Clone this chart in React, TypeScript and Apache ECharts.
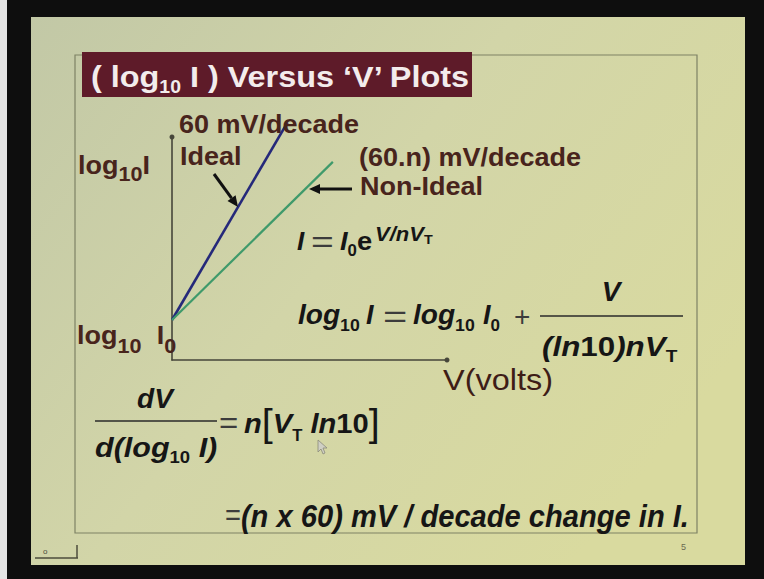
import { useEffect, useRef } from 'react';
import * as echarts from 'echarts';

// Diode characteristic: log10 I (decades above log10 I0) versus applied V (mV)
const IDEAL_V = [0, 42];
const IDEAL_LOGI = [0, 0.7];
const NONIDEAL_V = [0, 58.5];
const NONIDEAL_LOGI = [0, 0.56];

const V_RANGE = [0, 100];
const LOGI_RANGE = [-0.1416, 0.648];

const FONT = '"Liberation Sans", Arial, Helvetica, sans-serif';
const LABEL = '#48241c';
const EQ = '#161616';
const EQ_LIGHT = '#3c3c3c';
const TITLE_BG = '#5e1b29';

type RS = { [k: string]: any };
const rs = (size: number, weight = 'bold', italic = false, extra: RS = {}) => ({
  fontFamily: FONT,
  fontSize: size,
  fontWeight: weight,
  fontStyle: italic ? 'italic' : 'normal',
  ...extra,
});

function txt(
  x: number,
  y: number,
  text: string,
  o: { size?: number; weight?: string; italic?: boolean; fill?: string; sx?: number; align?: string; rich?: RS } = {}
) {
  return {
    type: 'text',
    x,
    y,
    z: 20,
    scaleX: o.sx ?? 1,
    silent: true,
    style: {
      text,
      fontFamily: FONT,
      fontSize: o.size ?? 25,
      fontWeight: o.weight ?? 'bold',
      fontStyle: o.italic ? 'italic' : 'normal',
      fill: o.fill ?? EQ,
      align: o.align ?? 'left',
      verticalAlign: 'middle',
      rich: o.rich,
    },
  };
}

function seg(x1: number, y1: number, x2: number, y2: number, color: string, width: number) {
  return {
    type: 'line',
    z: 20,
    silent: true,
    shape: { x1, y1, x2, y2 },
    style: { stroke: color, lineWidth: width },
  };
}

// Pointer arrow with a filled head at (x2, y2)
function arrow(x1: number, y1: number, x2: number, y2: number) {
  const dx = x2 - x1;
  const dy = y2 - y1;
  const len = Math.sqrt(dx * dx + dy * dy);
  const ux = dx / len;
  const uy = dy / len;
  const headLen = 11;
  const half = 5;
  const bx = x2 - ux * headLen;
  const by = y2 - uy * headLen;
  return {
    type: 'group',
    z: 20,
    children: [
      seg(x1, y1, bx, by, '#111', 3),
      {
        type: 'polygon',
        z: 20,
        shape: {
          points: [
            [x2, y2],
            [bx - uy * half, by + ux * half],
            [bx + uy * half, by - ux * half],
          ],
        },
        style: { fill: '#111' },
      },
    ],
  };
}

const labelRich = (main: number, sub: number, lh: number, color: string) => ({
  m: rs(main, 'bold', false, { fill: color, lineHeight: lh }),
  g: rs(main, 'bold', false, { fill: color, lineHeight: lh, padding: [0, 0, 0, 14] }),
  s: rs(sub, 'bold', false, { fill: color, lineHeight: sub, verticalAlign: 'bottom' }),
});

const eqRich = (main: number, sub: number, lh: number) => ({
  i: rs(main, 'bold', true, { fill: EQ, lineHeight: lh }),
  u: rs(main, 'bold', false, { fill: EQ, lineHeight: lh }),
  b: rs(main + 10, 'normal', false, { fill: EQ, lineHeight: lh }),
  s: rs(sub, 'bold', false, { fill: EQ, lineHeight: sub, verticalAlign: 'bottom' }),
});

const graphics: any[] = [
  // projected slide
  { type: 'rect', z: -10, silent: true, shape: { x: 0, y: 0, width: 7, height: 579 }, style: { fill: '#e4e4e4' } },
  {
    type: 'rect',
    z: -9,
    silent: true,
    shape: { x: 31, y: 17, width: 714, height: 548 },
    style: {
      fill: {
        type: 'linear',
        x: 0,
        y: 0,
        x2: 1,
        y2: 0.6,
        colorStops: [
          { offset: 0, color: '#c2c8a6' },
          { offset: 0.5, color: '#d2d5a8' },
          { offset: 1, color: '#d9da9f' },
        ],
      },
    },
  },
  {
    type: 'rect',
    z: -8,
    silent: true,
    shape: { x: 75, y: 55, width: 622, height: 478 },
    style: { fill: 'none', stroke: '#7e8265', lineWidth: 1.2 },
  },
  { type: 'rect', z: 5, silent: true, shape: { x: 82, y: 52, width: 390, height: 45 }, style: { fill: TITLE_BG } },
  txt(91, 77, '{m|( log}{s|10}{m| I ) Versus \u2018V\u2019 Plots}', {
    sx: 1.08,
    fill: '#f3ecec',
    rich: labelRich(30, 18, 38, '#f3ecec'),
  }),

  // plot annotations
  txt(179, 124, '60 mV/decade', { fill: LABEL, sx: 1.08 }),
  txt(180, 156, 'Ideal', { fill: LABEL, sx: 1.08 }),
  txt(359, 157, '(60.n) mV/decade', { fill: LABEL, sx: 1.08 }),
  txt(360, 186, 'Non-Ideal', { fill: LABEL, sx: 1.08 }),
  txt(78, 165, '{m|log}{s|10}{m|I}', { fill: LABEL, sx: 1.08, rich: labelRich(25, 20, 38, LABEL) }),
  txt(77, 335, '{m|log}{s|10}{g|I}{s|0}', { fill: LABEL, sx: 1.08, rich: labelRich(25, 20, 42, LABEL) }),
  txt(443, 380, 'V(volts)', { fill: '#3e1d17', size: 29, weight: 'normal', sx: 1.12 }),
  arrow(214, 174, 238, 207),
  arrow(352, 189, 309, 189),

  // I = I0 e^(V/nVT)
  txt(297, 241, 'I', { size: 26, italic: true }),
  txt(311, 242, '=', { size: 30, weight: 'normal', fill: EQ_LIGHT, sx: 1.3 }),
  txt(340, 241, '{i|I}{s|0}{u|e}', { sx: 1.05, rich: eqRich(26, 16, 34) }),
  txt(375, 234, '{i|V/nV}{s|T}', { sx: 1.1, rich: eqRich(20, 13, 24) }),

  // log10 I = log10 I0 + V / ((ln10) n VT)
  txt(298, 315, '{i|log}{s|10}', { sx: 1.04, rich: eqRich(27, 17, 38) }),
  txt(366, 315, 'I', { size: 27, italic: true }),
  txt(383, 316, '=', { size: 32, weight: 'normal', fill: EQ_LIGHT, sx: 1.3 }),
  txt(413, 315, '{i|log}{s|10}', { sx: 1.04, rich: eqRich(27, 17, 38) }),
  txt(483, 315, '{i|I}{s|0}', { rich: eqRich(27, 17, 38) }),
  txt(514, 316, '+', { size: 28, weight: 'normal', fill: EQ_LIGHT }),
  seg(540, 316, 683, 316, '#2a2a2a', 1.5),
  txt(611, 291, 'V', { size: 28, italic: true, align: 'center' }),
  txt(542, 346, '{i|(ln}{u|10}{i|)nV}{s|T}', { sx: 1.12, rich: eqRich(28, 17, 38) }),

  // dV / d(log10 I) = n[VT ln10]
  txt(155, 398, 'dV', { size: 28, italic: true, align: 'center' }),
  seg(95, 421, 217, 421, '#2a2a2a', 1.5),
  txt(95, 447, '{i|d(log}{s|10}{i| I)}', { sx: 1.09, rich: eqRich(28, 17, 38) }),
  txt(219, 423, '=', { size: 30, weight: 'normal', fill: EQ_LIGHT, sx: 1.1 }),
  txt(244, 423, '{i|n}{b|[}{i|V}{s|T}{i| ln}{u|10}{b|]}', { sx: 1.04, rich: eqRich(28, 16, 40) }),
  txt(225, 515, '{e|=}{i|(n x 60) mV / decade change in I.}', {
    sx: 0.91,
    rich: {
      e: rs(30, 'normal', false, { fill: EQ_LIGHT, lineHeight: 38 }),
      i: rs(32, 'bold', true, { fill: EQ, lineHeight: 38 }),
    },
  }),

  // mouse pointer left on the slide
  {
    type: 'polygon',
    z: 20,
    silent: true,
    shape: {
      points: [
        [318, 440],
        [318, 452],
        [321, 449],
        [323, 454],
        [325, 453],
        [323, 448],
        [327, 448],
      ],
    },
    style: { fill: '#cfcfc4', stroke: '#8a8a7a', lineWidth: 0.8 },
  },

  // slide footer
  txt(681, 547, '5', { size: 9, weight: 'normal', fill: '#6a6a52' }),
  seg(35, 558, 78, 558, '#4c4c3c', 1.5),
  seg(77, 545, 77, 558, '#4c4c3c', 1.5),
  txt(43, 551, 'o', { size: 8, weight: 'normal', fill: '#4c4c3c' }),
];

const axisLine = (sym: string) => ({
  show: true,
  onZero: false,
  symbol: ['none', sym],
  symbolSize: [5, 5],
  lineStyle: { color: '#46463a', width: 1.6 },
});

const option: any = {
  animation: false,
  backgroundColor: '#0e0e0e',
  grid: { left: 172, top: 137, width: 275, height: 223, containLabel: false },
  xAxis: {
    type: 'value',
    min: V_RANGE[0],
    max: V_RANGE[1],
    axisLine: axisLine('circle'),
    axisTick: { show: false },
    axisLabel: { show: false },
    splitLine: { show: false },
  },
  yAxis: {
    type: 'value',
    min: LOGI_RANGE[0],
    max: LOGI_RANGE[1],
    axisLine: axisLine('circle'),
    axisTick: { show: false },
    axisLabel: { show: false },
    splitLine: { show: false },
  },
  series: [
    {
      name: 'Ideal',
      type: 'line',
      clip: false,
      symbol: 'none',
      z: 10,
      lineStyle: { color: '#25297a', width: 2.6 },
      data: IDEAL_V.map((v, i) => [v, IDEAL_LOGI[i]]),
    },
    {
      name: 'Non-Ideal',
      type: 'line',
      clip: false,
      symbol: 'none',
      z: 11,
      lineStyle: { color: '#3f9a6b', width: 2.2 },
      data: NONIDEAL_V.map((v, i) => [v, NONIDEAL_LOGI[i]]),
    },
  ],
  graphic: graphics,
};

export default function App() {
  const ref = useRef<HTMLDivElement>(null);
  useEffect(() => {
    if (!ref.current) return;
    const chart = echarts.init(ref.current, null, { renderer: 'svg' });
    chart.setOption(option);
    return () => chart.dispose();
  }, []);
  return <div ref={ref} style={{ position: 'absolute', left: 0, top: 0, width: 764, height: 579 }} />;
}
